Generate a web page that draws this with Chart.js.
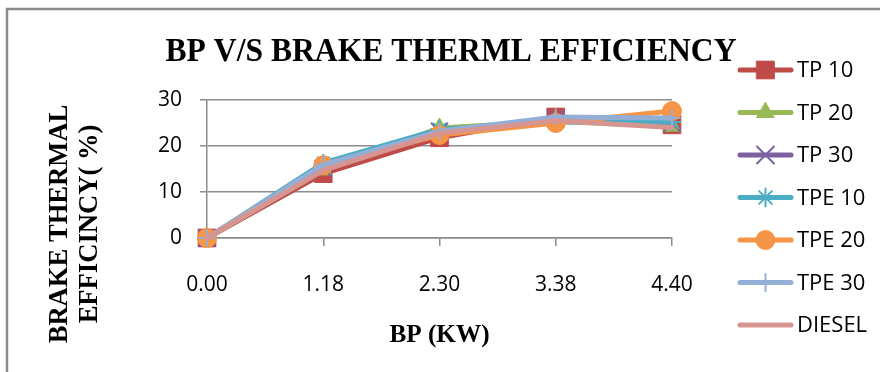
<!DOCTYPE html>
<html>
<head>
<meta charset="utf-8">
<script src="https://cdn.jsdelivr.net/npm/chart.js@4/dist/chart.umd.min.js"></script>
<style>
  html, body { margin: 0; padding: 0; background: #ffffff; }
  canvas { display: block; }
</style>
</head>
<body>
<canvas id="chart" width="880" height="372"></canvas>
<script>
// Brake power (kW) categories and brake thermal efficiency (%) per fuel blend
const categories = ['0.00', '1.18', '2.30', '3.38', '4.40'];
const tp10   = [0, 14.0, 21.8, 26.3, 24.6];
const tp20   = [0, 14.8, 23.9, 25.4, 24.3];
const tp30   = [0, 15.2, 23.2, 25.9, 25.0];
const tpe10  = [0, 16.3, 23.6, 25.2, 25.2];
const tpe20  = [0, 15.8, 22.4, 25.0, 27.6];
const tpe30  = [0, 15.9, 23.2, 26.3, 26.1];
const diesel = [0, 14.7, 22.8, 25.5, 24.0];
const seriesNames = ['TP 10', 'TP 20', 'TP 30', 'TPE 10', 'TPE 20', 'TPE 30', 'DIESEL'];
const yTicks = [0, 10, 20, 30];

const chartTitle = 'BP V/S BRAKE THERML EFFICIENCY';
const xTitle = 'BP (KW)';
const yTitleLines = ['BRAKE THERMAL', 'EFFICINCY( %)'];

const SANS = '"Open Sans", "Liberation Sans", sans-serif';
const SERIF = '"Liberation Serif", "DejaVu Serif", serif';
const AXIS_GRAY = '#8c8c8c';

function series(label, data, color, style, radius, order, extra) {
  return Object.assign({
    label, data, order,
    clip: false,
    borderColor: color,
    backgroundColor: color,
    pointBackgroundColor: color,
    pointBorderColor: color,
    pointStyle: style,
    pointRadius: radius,
    pointHoverRadius: radius,
    pointBorderWidth: 1,
    borderWidth: 5,
    borderJoinStyle: 'round',
    borderCapStyle: 'round',
    tension: 0,
    fill: false
  }, extra || {});
}

const datasets = [
  series(seriesNames[0], tp10,   '#be4b48', 'rect',     12.5, 6),
  series(seriesNames[1], tp20,   '#98b954', 'triangle', 10,   5),
  series(seriesNames[2], tp30,   '#7d60a0', 'crossRot', 12,   4, { pointBorderWidth: 2 }),
  series(seriesNames[3], tpe10,  '#4aacc5', 'star',     9,    3, { pointBorderWidth: 2 }),
  series(seriesNames[4], tpe20,  '#f59545', 'circle',   9.5,  2),
  series(seriesNames[5], tpe30,  '#93afd8', 'cross',    8.5,  1, { pointBorderWidth: 2 }),
  series(seriesNames[6], diesel, '#d79592', 'circle',   0,    0)
];

// Draw text squeezed horizontally along its own direction
function fittedText(ctx, text, x, y, font, sx) {
  ctx.save();
  ctx.font = font;
  ctx.translate(x, y);
  ctx.scale(sx, 1);
  ctx.fillText(text, 0, 0);
  ctx.restore();
}

const frameAndTitles = {
  id: 'frameAndTitles',
  beforeDraw(chart) {
    const ctx = chart.ctx;
    ctx.save();
    ctx.fillStyle = '#ffffff';
    ctx.fillRect(0, 0, chart.width, chart.height);
    ctx.strokeStyle = '#8a8a8a';
    ctx.lineWidth = 2.5;
    ctx.beginPath();
    ctx.moveTo(7, chart.height + 2);
    ctx.lineTo(7, 9);
    ctx.lineTo(chart.width + 2, 9);
    ctx.stroke();
    ctx.restore();
  },
  afterDraw(chart) {
    const ctx = chart.ctx;
    const area = chart.chartArea;
    ctx.save();
    ctx.fillStyle = '#000000';
    ctx.textAlign = 'center';
    ctx.textBaseline = 'alphabetic';
    // chart title
    fittedText(ctx, chartTitle, 451, 61, 'bold 34px ' + SERIF, 0.93);
    // x axis title
    fittedText(ctx, xTitle, (area.left + area.right) / 2, 342, 'bold 26px ' + SERIF, 0.97);
    // y axis title, two rotated lines
    ctx.save();
    ctx.translate(0, 224);
    ctx.rotate(-Math.PI / 2);
    ctx.textBaseline = 'middle';
    fittedText(ctx, yTitleLines[0], 0, 60, 'bold 28px ' + SERIF, 0.95);
    fittedText(ctx, yTitleLines[1], 0, 90, 'bold 28px ' + SERIF, 0.95);
    ctx.restore();

    // legend: line sample with marker, then label
    const helpers = Chart.helpers;
    const rowTop = 70, rowGap = 42.5;
    chart.data.datasets.forEach((ds, i) => {
      const y = rowTop + i * rowGap;
      ctx.save();
      ctx.strokeStyle = ds.borderColor;
      ctx.lineWidth = 5;
      ctx.lineCap = 'round';
      ctx.beginPath();
      ctx.moveTo(740, y);
      ctx.lineTo(791, y);
      ctx.stroke();
      if (ds.pointRadius > 0 && helpers && helpers.drawPoint) {
        ctx.fillStyle = ds.pointBackgroundColor;
        ctx.strokeStyle = ds.pointBorderColor;
        ctx.lineWidth = ds.pointBorderWidth;
        helpers.drawPoint(ctx, {
          pointStyle: ds.pointStyle,
          radius: ds.pointRadius,
          rotation: 0,
          borderWidth: ds.pointBorderWidth
        }, 765.5, y);
      }
      ctx.restore();
      ctx.fillStyle = '#000000';
      ctx.font = '22px ' + SANS;
      ctx.textAlign = 'left';
      ctx.textBaseline = 'middle';
      ctx.fillText(ds.label, 797, y + 1);
    });
    ctx.restore();
  }
};

new Chart(document.getElementById('chart'), {
  type: 'line',
  data: { labels: categories, datasets },
  options: {
    responsive: false,
    maintainAspectRatio: false,
    devicePixelRatio: 1,
    animation: false,
    events: [],
    layout: { padding: { top: 100, right: 208, bottom: 74, left: 0 } },
    plugins: {
      legend: { display: false },
      title: { display: false },
      tooltip: { enabled: false }
    },
    scales: {
      x: {
        type: 'category',
        offset: false,
        afterFit: s => { s.height = 60; },
        grid: {
          display: true,
          drawOnChartArea: false,
          drawTicks: true,
          tickLength: 8,
          color: AXIS_GRAY,
          lineWidth: 1.5
        },
        border: { display: true, color: AXIS_GRAY, width: 1.5 },
        ticks: {
          color: '#000000',
          font: { family: SANS, size: 21 },
          padding: 26,
          maxRotation: 0,
          autoSkip: false
        }
      },
      y: {
        min: 0,
        max: 30,
        afterFit: s => { s.width = 207; },
        afterBuildTicks: s => { s.ticks = yTicks.map(v => ({ value: v })); },
        grid: {
          color: AXIS_GRAY,
          lineWidth: 1.5,
          drawTicks: true,
          tickLength: 7
        },
        border: { display: true, color: AXIS_GRAY, width: 1.5 },
        ticks: {
          color: '#000000',
          font: { family: SANS, size: 21 },
          padding: 18
        }
      }
    }
  },
  plugins: [frameAndTitles]
});
</script>
</body>
</html>
